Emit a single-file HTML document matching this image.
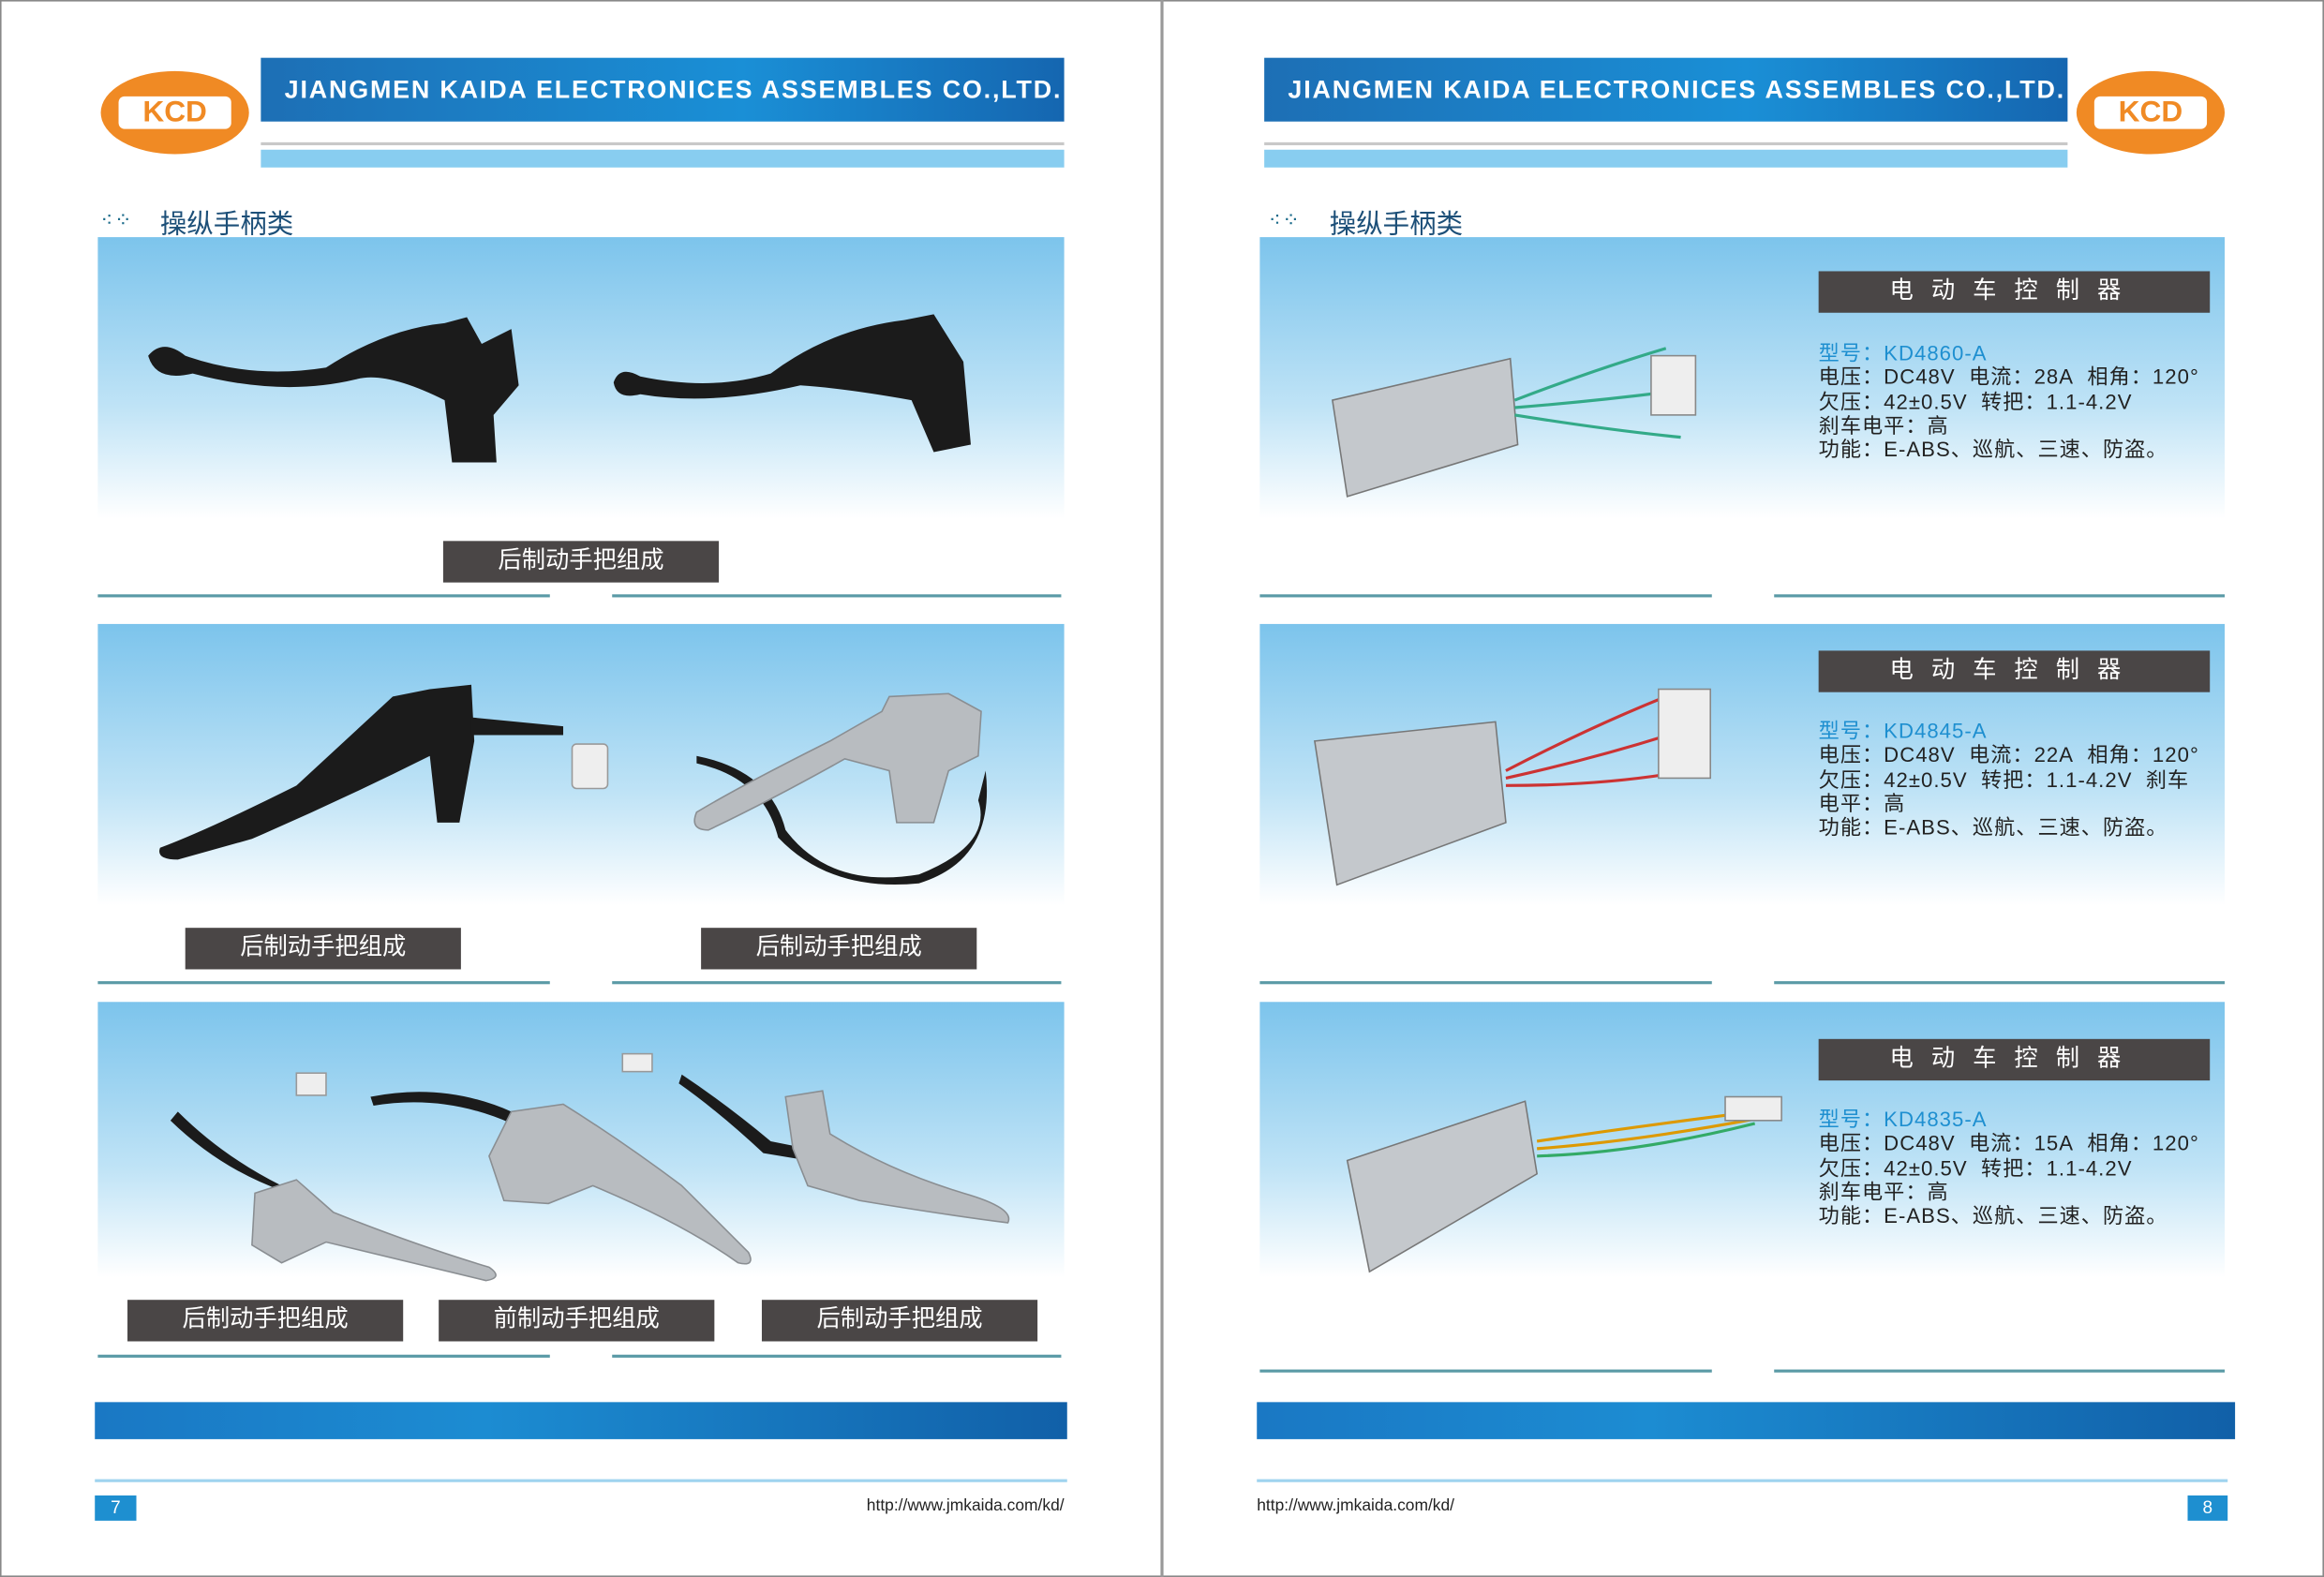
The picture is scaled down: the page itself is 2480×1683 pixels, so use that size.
<!DOCTYPE html>
<html><head><meta charset="utf-8"><style>
*{margin:0;padding:0;box-sizing:border-box}
html,body{width:2480px;height:1683px;overflow:hidden;background:#fff}
#w{position:absolute;left:0;top:0;width:1568px;height:1064px;transform-origin:0 0;transform:scale(1.58163,1.58177);font-family:"Liberation Sans","Noto Sans CJK SC",sans-serif}
.a{position:absolute}
.hdr{background:linear-gradient(90deg,#1d6fb5,#1a8fd6 60%,#1566b0);color:#fff;font-weight:bold;font-size:17px;letter-spacing:1.15px;line-height:43px;padding-left:16px;height:43px;white-space:nowrap}
.lb{background:#88cdf0;height:12px}
.gl{height:2px;background:#c8c8c8}
.pan{background:linear-gradient(#7cc4ec,#bfe3f6 60%,#fff)}
.tag{background:#4a4646;color:#fff;font-size:16px;text-align:center;line-height:28px;height:28px;width:186px}
.ln{height:2px;background:#5a9aa6}
.bb{height:25px;background:linear-gradient(90deg,#1a78c4,#1c8cd2 40%,#1160a8)}
.tt{font-size:18px;color:#1c4f78}
.ctl{background:#4a4646;color:#fff;font-size:16px;letter-spacing:12px;text-align:center;line-height:28px;height:28px;width:264px}
.sp{font-size:14px;line-height:16.3px;color:#222;white-space:nowrap;letter-spacing:0.65px}
.sp b{font-weight:normal;color:#1e8fd0}
.logo{width:100px;height:56px;border-radius:50%;background:#f08a24;}
.logo i{position:absolute;left:12px;top:17px;width:76px;height:22px;background:#fff;border-radius:4px;font-style:normal;color:#f08a24;font-weight:bold;font-size:20px;text-align:center;line-height:22px}
</style></head><body><div id="w">
<div class="a" style="left:0;top:0;width:1568px;height:1064px;border:1px solid #888"></div>
<div class="a" style="left:783px;top:0;width:2px;height:1064px;background:#999"></div>

<div class="a logo" style="left:68px;top:48px"><i>KCD</i></div>
<div class="a hdr" style="left:176px;top:39px;width:542px">JIANGMEN KAIDA ELECTRONICES ASSEMBLES CO.,LTD.</div>
<div class="a gl" style="left:176px;top:96px;width:542px"></div>
<div class="a lb" style="left:176px;top:101px;width:542px"></div>
<div class="a tt" style="left:68px;top:140px;color:#1a6a8a;font-size:14px;letter-spacing:1px">⁖⁘</div>
<div class="a tt" style="left:108px;top:137px">操纵手柄类</div>

<div class="a pan" style="left:66px;top:160px;width:652px;height:190px"></div>
<div class="a pan" style="left:66px;top:421px;width:652px;height:190px"></div>
<div class="a pan" style="left:66px;top:676px;width:652px;height:186px"></div>
<svg class="a" style="left:0;top:0" width="784" height="1064">
<g fill="#1b1b1b">
<path d="M100 240 Q110 228 125 240 Q170 256 220 248 Q260 222 300 218 L315 214 L325 232 L345 222 L350 260 L333 280 L335 312 L305 312 L300 270 Q260 250 240 256 Q190 268 130 252 Q105 258 100 240Z"/>
<path d="M414 258 Q418 246 432 254 Q480 264 520 252 Q560 222 610 216 L630 212 L650 244 L655 300 L630 305 L615 270 Q570 262 540 260 Q480 274 432 266 Q416 270 414 258Z"/>
<path d="M108 572 Q140 560 200 530 L265 470 L290 465 L318 462 L320 500 L310 555 L295 555 L290 510 Q230 540 170 566 L120 580 Q105 580 108 572Z"/>
<path d="M318 484 L380 490 L380 496 L318 496Z"/>
<path d="M470 510 Q520 520 530 560 Q560 600 620 590 Q670 570 660 540 L665 520 Q672 580 620 596 Q560 602 525 565 Q515 525 470 515Z"/>
<path d="M120 750 Q150 780 190 800 L195 805 Q150 790 115 756Z"/>
<path d="M250 740 Q300 730 345 750 L345 758 Q300 738 252 746Z"/>
<path d="M460 725 Q490 745 520 770 L545 775 L545 783 L515 778 Q485 750 458 731Z"/>
</g>
<g fill="#b8bcc0" stroke="#8a8e92" stroke-width="1">
<path d="M470 548 Q500 530 560 500 L595 480 L600 470 L640 468 L662 480 L660 510 L640 520 L630 555 L605 555 L600 520 L570 512 Q520 540 478 560 Q465 560 470 548Z"/>
<path d="M172 805 L200 796 L225 818 Q280 840 330 855 Q340 862 328 864 Q270 850 220 838 L190 852 L170 840Z"/>
<path d="M330 780 L345 750 L380 745 Q420 770 460 800 Q490 830 505 845 Q510 855 498 852 Q460 825 400 800 L370 812 L340 810Z"/>
<path d="M530 740 L555 736 L560 765 Q600 790 650 805 Q685 815 680 825 Q640 820 580 810 L545 800 L535 775Z"/>
</g>
<g fill="#eee" stroke="#999"><rect x="386" y="502" width="24" height="30" rx="3"/><rect x="200" y="724" width="20" height="15"/><rect x="420" y="711" width="20" height="12"/></g>
</svg>
<div class="a tag" style="left:299px;top:365px">后制动手把组成</div>
<div class="a ln" style="left:66px;top:401px;width:305px"></div><div class="a ln" style="left:413px;top:401px;width:303px"></div>
<div class="a tag" style="left:125px;top:626px">后制动手把组成</div>
<div class="a tag" style="left:473px;top:626px">后制动手把组成</div>
<div class="a ln" style="left:66px;top:662px;width:305px"></div><div class="a ln" style="left:413px;top:662px;width:303px"></div>
<div class="a tag" style="left:86px;top:877px">后制动手把组成</div>
<div class="a tag" style="left:296px;top:877px">前制动手把组成</div>
<div class="a tag" style="left:514px;top:877px">后制动手把组成</div>
<div class="a ln" style="left:66px;top:914px;width:305px"></div><div class="a ln" style="left:413px;top:914px;width:303px"></div>
<div class="a bb" style="left:64px;top:946px;width:656px"></div>
<div class="a" style="left:64px;top:998px;width:656px;height:2px;background:#9fd3ef"></div>
<div class="a" style="left:64px;top:1009px;width:28px;height:17px;background:#1e8fd0;color:#fff;font-size:12px;text-align:center;line-height:17px">7</div>
<div class="a" style="left:520px;top:1010px;width:198px;text-align:right;font-size:11px;color:#222">http://www.jmkaida.com/kd/</div>

<div class="a logo" style="left:1401px;top:48px"><i>KCD</i></div>
<div class="a hdr" style="left:853px;top:39px;width:542px">JIANGMEN KAIDA ELECTRONICES ASSEMBLES CO.,LTD.</div>
<div class="a gl" style="left:853px;top:96px;width:542px"></div>
<div class="a lb" style="left:853px;top:101px;width:542px"></div>
<div class="a tt" style="left:856px;top:140px;color:#1a6a8a;font-size:14px;letter-spacing:1px">⁖⁘</div>
<div class="a tt" style="left:897px;top:137px">操纵手柄类</div>

<div class="a pan" style="left:850px;top:160px;width:651px;height:190px"></div>
<div class="a pan" style="left:850px;top:421px;width:651px;height:190px"></div>
<div class="a pan" style="left:850px;top:676px;width:651px;height:186px"></div>
<svg class="a" style="left:784px;top:0" width="784" height="1064">
<g fill="#c4c8cc" stroke="#777">
<path d="M115 270 L235 242 L240 300 L125 335Z"/>
<path d="M103 500 L225 487 L232 555 L118 597Z"/>
<path d="M125 783 L245 743 L253 792 L140 858Z"/>
</g>
<g fill="none" stroke-width="2">
<path d="M238 270 Q290 250 340 235 M238 275 Q300 270 360 262 M238 280 Q300 290 350 295" stroke="#3a8"/>
<path d="M232 520 Q290 490 340 470 M232 525 Q300 510 360 490 M232 530 Q300 530 355 520" stroke="#c33"/>
<path d="M253 770 Q320 760 400 750 M253 775 Q320 770 400 755" stroke="#d90"/>
<path d="M253 780 Q320 778 400 758" stroke="#3a6"/>
</g>
<g fill="#eee" stroke="#888"><rect x="330" y="240" width="30" height="40"/><rect x="335" y="465" width="35" height="60"/><rect x="380" y="740" width="38" height="16"/></g>
</svg>
<div class="a ctl" style="left:1227px;top:183px">电动车控制器</div>
<div class="a sp" style="left:1227px;top:230px"><b>型号：KD4860-A</b><br>电压：DC48V&nbsp; 电流：28A&nbsp; 相角：120°<br>欠压：42±0.5V&nbsp; 转把：1.1-4.2V<br>刹车电平：高<br>功能：E-ABS、巡航、三速、防盗。</div>
<div class="a ln" style="left:850px;top:401px;width:305px"></div><div class="a ln" style="left:1197px;top:401px;width:304px"></div>
<div class="a ctl" style="left:1227px;top:439px">电动车控制器</div>
<div class="a sp" style="left:1227px;top:485px"><b>型号：KD4845-A</b><br>电压：DC48V&nbsp; 电流：22A&nbsp; 相角：120°<br>欠压：42±0.5V&nbsp; 转把：1.1-4.2V&nbsp; 刹车<br>电平：高<br>功能：E-ABS、巡航、三速、防盗。</div>
<div class="a ln" style="left:850px;top:662px;width:305px"></div><div class="a ln" style="left:1197px;top:662px;width:304px"></div>
<div class="a ctl" style="left:1227px;top:701px">电动车控制器</div>
<div class="a sp" style="left:1227px;top:747px"><b>型号：KD4835-A</b><br>电压：DC48V&nbsp; 电流：15A&nbsp; 相角：120°<br>欠压：42±0.5V&nbsp; 转把：1.1-4.2V<br>刹车电平：高<br>功能：E-ABS、巡航、三速、防盗。</div>
<div class="a ln" style="left:850px;top:924px;width:305px"></div><div class="a ln" style="left:1197px;top:924px;width:304px"></div>
<div class="a bb" style="left:848px;top:946px;width:660px"></div>
<div class="a" style="left:848px;top:998px;width:655px;height:2px;background:#9fd3ef"></div>
<div class="a" style="left:848px;top:1010px;font-size:11px;color:#222">http://www.jmkaida.com/kd/</div>
<div class="a" style="left:1476px;top:1009px;width:27px;height:17px;background:#1e8fd0;color:#fff;font-size:12px;text-align:center;line-height:17px">8</div>
</div></body></html>
